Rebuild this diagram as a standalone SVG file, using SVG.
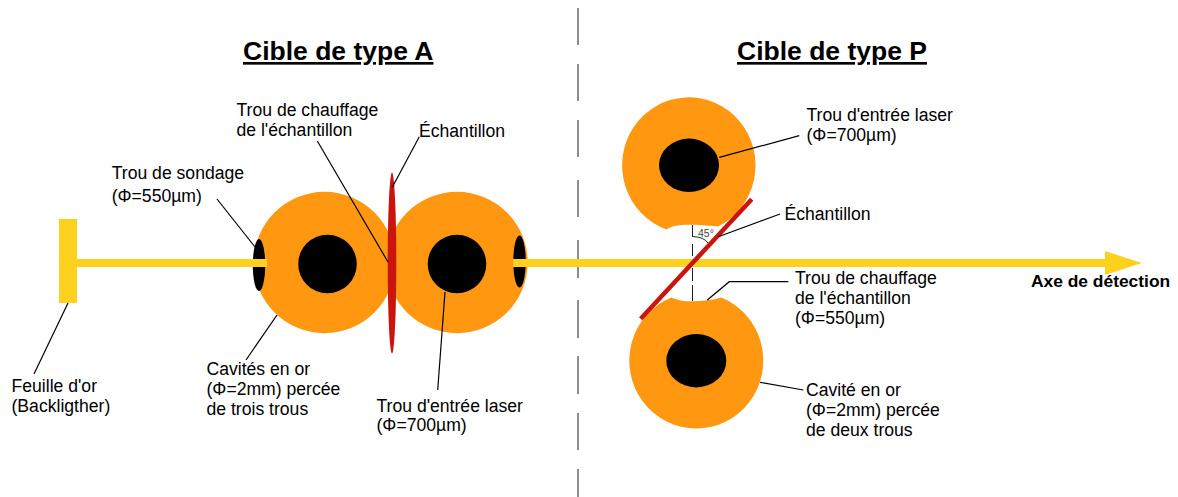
<svg xmlns="http://www.w3.org/2000/svg" width="1178" height="497" viewBox="0 0 1178 497">
<defs><style>
text{font-family:"Liberation Sans",Arial,sans-serif;font-size:17.6px;fill:#000}
.h{font-size:26.5px;font-weight:bold;text-decoration:underline}
.o{fill:#ff9711}
.k{fill:#000}
.y{fill:#ffd11f}
.r{fill:#c9140f}
.l{stroke:#000;stroke-width:1.2;fill:none}
</style></defs>
<g id="separator"><path d="M578 8V45M578 64V101M578 120V157M578 180V217M578 240V278M578 300V338M578 356V394M578 413V450M578 469V497" stroke="#444" stroke-width="1.2" fill="none"/></g>
<g id="titles"><text class="h" x="243" y="60">Cible de type A</text><text class="h" x="737" y="60">Cible de type P</text></g>
<g id="foil"><rect class="y" x="59" y="219" width="18" height="84"/></g>
<g id="cavity-a-left"><circle class="o" cx="324.500" cy="262.500" r="70.700"/><circle class="k" cx="327.500" cy="264" r="29.300"/><ellipse class="k" cx="259" cy="265" rx="6.200" ry="26"/></g>
<g id="cavity-a-right"><circle class="o" cx="457" cy="262.500" r="70.700"/><circle class="k" cx="457" cy="264" r="29.300"/><ellipse class="k" cx="519.500" cy="261.500" rx="6.200" ry="26"/></g>
<g id="angle"><path d="M692.500 225V237M692.500 244V256M692.500 268V281M692.500 285V301" stroke="#222" stroke-width="1" fill="none"/><path d="M692.500 236.500Q704 237 708 243" stroke="#222" stroke-width="1" fill="none"/><text x="698" y="237" style="font-size:10.500px;fill:#444">45°</text></g>
<g id="beam"><rect class="y" x="70" y="259" width="197" height="8"/><rect class="y" x="513" y="259" width="592" height="8"/><polygon class="y" points="1105,251 1142,263 1105,275"/></g>
<g id="sample-a"><ellipse class="r" cx="392" cy="263" rx="4.300" ry="90.500"/></g>
<g id="cavity-p-top"><path class="o" d="M666.700 229.500A66.700 68 0 1 1 718 226.500C712 226 702 224.700 692 224.700C682 224.700 672 225 666.700 229.500Z"/><ellipse class="k" cx="689" cy="165.300" rx="30" ry="26.700"/></g>
<g id="cavity-p-bottom"><path class="o" d="M671.300 297.500A67 68 0 1 0 721.300 297.500C712 300 703 301.300 693 301.300C684 301.300 678 300.500 671.300 297.500Z"/><ellipse class="k" cx="696.300" cy="360.700" rx="30" ry="26.700"/></g>
<g id="sample-p"><line x1="640.700" y1="318.700" x2="751.700" y2="199.300" stroke="#c9140f" stroke-width="4.500"/></g>
<g id="connectors">
<path class="l" d="M68 303L34 374"/>
<path class="l" d="M217 199L255 247"/>
<path class="l" d="M277 315L246 360"/>
<path class="l" d="M317.300 141L388 262"/>
<path class="l" d="M419.300 136.700L392.300 187.300"/>
<path class="l" d="M445 292L437.700 390"/>
<path class="l" d="M719.300 157.300L799.300 135.700"/>
<path class="l" d="M718.300 236.700L780 214"/>
<path class="l" d="M707.300 300L729.300 281.700H788.300"/>
<path class="l" d="M760 382.300L803.300 390"/>
</g>
<g id="labels">
<text x="236.500" y="116">Trou de chauffage</text><text x="236.500" y="136">de l'échantillon</text>
<text x="419" y="137">Échantillon</text>
<text x="111.700" y="179">Trou de sondage</text><text x="111.700" y="202">(Φ=550µm)</text>
<text x="11.500" y="392">Feuille d'or</text><text x="11.500" y="412">(Backligther)</text>
<text x="206.500" y="375">Cavités en or</text><text x="206.500" y="395">(Φ=2mm) percée</text><text x="206.500" y="415">de trois trous</text>
<text x="376.500" y="411.500">Trou d'entrée laser</text><text x="376.500" y="431">(Φ=700µm)</text>
<text x="806.500" y="121">Trou d'entrée laser</text><text x="806.500" y="141">(Φ=700µm)</text>
<text x="784.500" y="220">Échantillon</text>
<text x="795" y="284">Trou de chauffage</text><text x="795" y="304">de l'échantillon</text><text x="795" y="324">(Φ=550µm)</text>
<text x="806" y="396">Cavité en or</text><text x="806" y="416">(Φ=2mm) percée</text><text x="806" y="436">de deux trous</text>
<text x="1031" y="287" style="font-weight:bold;font-size:17.400px">Axe de détection</text>
</g>
</svg>
